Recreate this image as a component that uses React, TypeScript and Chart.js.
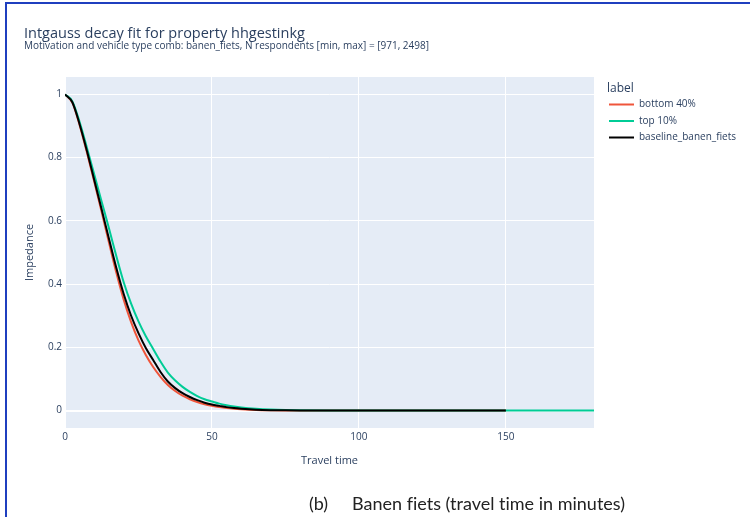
import React, { useEffect, useRef } from "react";
import { Chart, registerables } from "chart.js";

Chart.register(...registerables);

// ---------- data ----------
const travelTime = [0, 2.5, 5, 7.5, 10, 12.5, 15, 17.5, 20, 22.5, 25, 27.5, 30, 32.5, 35, 37.5, 40, 42.5, 45, 47.5, 50, 52.5, 55, 57.5, 60, 65, 70, 75, 80, 90, 100, 110, 120, 130, 140, 150, 160, 170, 180];
const bottom40 = [1, 0.974, 0.902, 0.815, 0.722, 0.627, 0.53, 0.435, 0.35, 0.28, 0.222, 0.176, 0.138, 0.107, 0.081, 0.062, 0.047, 0.036, 0.027, 0.02, 0.015, 0.011, 0.008, 0.006, 0.0045, 0.0023, 0.0012, 0.0006, 0.0003, 0.0001, 0, 0, 0, 0, 0, 0];
const top10 = [1, 0.978, 0.912, 0.83, 0.745, 0.66, 0.575, 0.487, 0.405, 0.338, 0.282, 0.235, 0.195, 0.155, 0.12, 0.095, 0.075, 0.059, 0.046, 0.036, 0.029, 0.022, 0.017, 0.013, 0.01, 0.006, 0.0035, 0.002, 0.0012, 0.0004, 0.0001, 0, 0, 0, 0, 0, 0, 0, 0];
const baseline = [1, 0.975, 0.905, 0.82, 0.728, 0.635, 0.542, 0.45, 0.368, 0.3, 0.245, 0.198, 0.16, 0.122, 0.092, 0.071, 0.055, 0.043, 0.033, 0.025, 0.019, 0.015, 0.011, 0.008, 0.006, 0.003, 0.0015, 0.0008, 0.0004, 0.0001, 0, 0, 0, 0, 0, 0];
const seriesLabels = ["bottom 40%", "top 10%", "baseline_banen_fiets"];
const seriesColors = ["#EF553B", "#00CC96", "#000000"];
const xTicks = [0, 50, 100, 150];
const yTicks = [0, 0.2, 0.4, 0.6, 0.8, 1];
const titleText = "Intgauss decay fit for property hhgestinkg";
const subtitleText = "Motivation and vehicle type comb: banen_fiets, N respondents [min, max] = [971, 2498]";
const legendTitle = "label";
const xTitle = "Travel time";
const yTitle = "Impedance";
const captionLabel = "(b)";
const captionText = "Banen fiets (travel time in minutes)";

const FONT = "'Open Sans', sans-serif";
const TEXT = "#2a3f5f";

const bgPlugin = {
  id: "plotBg",
  beforeDraw(chart: any) {
    const { ctx, chartArea } = chart;
    ctx.save();
    ctx.fillStyle = "#E5ECF6";
    ctx.fillRect(chartArea.left, chartArea.top, chartArea.right - chartArea.left, chartArea.bottom - chartArea.top);
    ctx.restore();
  },
};

const legendPlugin = {
  id: "plotlyLegend",
  afterDraw(chart: any) {
    const { ctx, chartArea } = chart;
    const x0 = chartArea.right + 13;
    ctx.save();
    ctx.fillStyle = TEXT;
    ctx.textBaseline = "middle";
    ctx.textAlign = "left";
    ctx.font = "12px 'Open Sans'";
    ctx.fillText(legendTitle, x0, chartArea.top + 12);
    chart.data.datasets.forEach((ds: any, i: number) => {
      const y = chartArea.top + 27.5 + i * 16.5;
      ctx.strokeStyle = ds.borderColor;
      ctx.lineWidth = 2;
      ctx.beginPath();
      ctx.moveTo(x0 + 2, y);
      ctx.lineTo(x0 + 27, y);
      ctx.stroke();
      ctx.font = "10px 'Open Sans'";
      ctx.fillStyle = TEXT;
      ctx.fillText(ds.label, x0 + 32, y);
    });
    ctx.restore();
  },
};

function toPoints(values: number[]) {
  return values.map((y, i) => ({ x: travelTime[i], y }));
}

export default function App() {
  const ref = useRef<HTMLCanvasElement | null>(null);
  useEffect(() => {
    if (!ref.current) return;
    const seriesValues = [bottom40, top10, baseline];
    const chart = new Chart(ref.current, {
      type: "line",
      data: {
        datasets: seriesValues.map((vals, i) => ({
          label: seriesLabels[i],
          data: toPoints(vals),
          borderColor: seriesColors[i],
          backgroundColor: seriesColors[i],
          borderWidth: 2,
          pointRadius: 0,
          fill: false,
          cubicInterpolationMode: "monotone",
          order: 3 - i,
        })),
      },
      options: {
        animation: false,
        responsive: false,
        maintainAspectRatio: false,
        layout: { padding: { left: 24, right: 156, top: 0, bottom: 0 } },
        plugins: {
          legend: { display: false },
          tooltip: { enabled: false },
          title: {
            display: true,
            text: titleText,
            align: "start",
            color: TEXT,
            font: { family: FONT, size: 14.5, weight: "normal", lineHeight: 1 },
            padding: { top: 27, bottom: 0 },
          },
          subtitle: {
            display: true,
            text: subtitleText,
            align: "start",
            color: TEXT,
            font: { family: FONT, size: 10, weight: "normal", lineHeight: 1 },
            padding: { top: 0, bottom: 25.5 },
          },
        },
        scales: {
          x: {
            type: "linear",
            min: 0,
            max: 180,
            afterBuildTicks: (s: any) => {
              s.ticks = xTicks.map((v) => ({ value: v }));
            },
            afterFit: (s: any) => {
              s.height = 89;
            },
            ticks: { color: TEXT, font: { family: FONT, size: 10 }, padding: 3, autoSkip: false, maxRotation: 0, callback: (v: any) => String(v) },
            grid: { color: "#ffffff", drawTicks: false, lineWidth: (c: any) => (c.tick && c.tick.value === 0 ? 2 : 1) },
            border: { display: false },
            title: { display: true, text: xTitle, color: TEXT, font: { family: FONT, size: 11 }, padding: { top: 0, bottom: 49.4 } },
          },
          y: {
            type: "linear",
            min: -0.055,
            max: 1.055,
            afterBuildTicks: (s: any) => {
              s.ticks = yTicks.map((v) => ({ value: v }));
            },
            afterFit: (s: any) => {
              s.width = 41;
            },
            ticks: { color: TEXT, font: { family: FONT, size: 10 }, padding: 3, callback: (v: any) => String(v) },
            grid: { color: "#ffffff", drawTicks: false, lineWidth: (c: any) => (c.tick && c.tick.value === 0 ? 2 : 1) },
            border: { display: false },
            title: { display: true, text: yTitle, color: TEXT, font: { family: FONT, size: 11 }, padding: { top: -0.6, bottom: 0 } },
          },
        },
      },
      plugins: [bgPlugin, legendPlugin],
    } as any);
    return () => chart.destroy();
  }, []);

  return (
    <div style={{ position: "absolute", left: 0, top: 0, width: 750, height: 517, background: "#ffffff", overflow: "hidden" }}>
      <canvas ref={ref} width={750} height={517} style={{ position: "absolute", left: 0, top: 0, width: 750, height: 517 }} />
      <div
        style={{
          position: "absolute",
          left: 5,
          top: 2,
          width: 745,
          height: 515,
          borderTop: "2px solid #1f3fbf",
          borderLeft: "2px solid #1f3fbf",
          boxSizing: "border-box",
          pointerEvents: "none",
        }}
      />
      <div
        style={{
          position: "absolute",
          left: 309,
          top: 491,
          height: 24,
          lineHeight: "24px",
          fontFamily: "Lato, sans-serif",
          fontSize: 18,
          color: "#222222",
          whiteSpace: "nowrap",
          fontVariantLigatures: "none",
        }}
      >
        <span style={{ display: "inline-block", width: 43 }}>{captionLabel}</span>
        <span>{captionText}</span>
      </div>
    </div>
  );
}
